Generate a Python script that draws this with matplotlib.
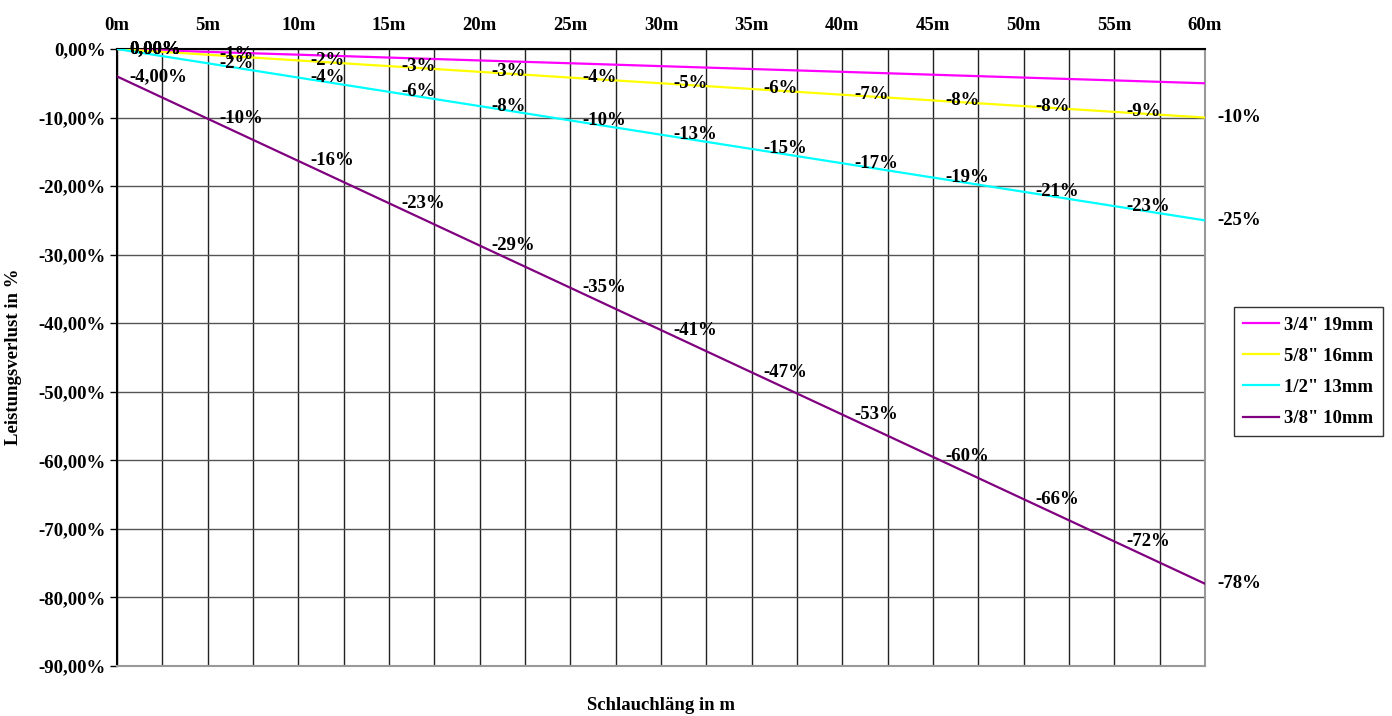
import math
import matplotlib
matplotlib.use("Agg")
import matplotlib.pyplot as plt
from matplotlib.ticker import MultipleLocator, FuncFormatter

plt.rcParams["font.family"] = ["Liberation Serif", "DejaVu Serif"]
plt.rcParams["font.weight"] = "bold"

# Schlauchlänge in m
laenge = [0, 5, 10, 15, 20, 25, 30, 35, 40, 45, 50, 55, 60]

# Leistungsverlust in % je Schlauchdurchmesser
verlust_19mm = [0, -0.42, -0.83, -1.25, -1.67, -2.08, -2.5, -2.92, -3.33, -3.75, -4.17, -4.58, -5]
verlust_16mm = [0, -0.83, -1.67, -2.5, -3.33, -4.17, -5, -5.83, -6.67, -7.5, -8.33, -9.17, -10]
verlust_13mm = [0, -2.08, -4.17, -6.25, -8.33, -10.42, -12.5, -14.58, -16.67, -18.75, -20.83, -22.92, -25]
verlust_10mm = [-4, -10.17, -16.33, -22.5, -28.67, -34.83, -41, -47.17, -53.33, -59.5, -65.67, -71.83, -78]

serien = [
    ("3/4\" 19mm", verlust_19mm, "#FF00FF", False),
    ("5/8\" 16mm", verlust_16mm, "#FFFF00", True),
    ("1/2\" 13mm", verlust_13mm, "#00FFFF", True),
    ("3/8\" 10mm", verlust_10mm, "#800080", True),
]

FS = 13.5


def runde(v):
    # kaufmännisch runden (0,5 weg von null)
    return int(math.copysign(math.floor(abs(v) + 0.5), v))


def label_text(i, v):
    if i == 0:
        return f"{v:.2f}%".replace(".", ",")
    return f"{runde(v)}%"


fig = plt.figure(figsize=(13.92, 7.16), dpi=100)
ax = fig.add_axes([117 / 1392, 1 - 666 / 716, 1088 / 1392, 617 / 716])

for name, werte, farbe, alle_labels in serien:
    ax.plot(laenge, werte, color=farbe, lw=1.6, label=name, zorder=3)
    for i, (x, v) in enumerate(zip(laenge, werte)):
        if i > 0 and not alle_labels:
            continue
        ax.annotate(label_text(i, v), (x, v), xytext=(12, 0), textcoords="offset pixels",
                    ha="left", va="center", fontsize=FS, fontweight="bold", zorder=4)

ax.set_xlim(0, 60)
ax.set_ylim(-90, 0)
ax.xaxis.set_major_locator(MultipleLocator(5))
ax.xaxis.set_minor_locator(MultipleLocator(2.5))
ax.yaxis.set_major_locator(MultipleLocator(10))
ax.xaxis.tick_top()
ax.xaxis.set_major_formatter(FuncFormatter(lambda v, p: f"{v:.0f}m"))
ax.yaxis.set_major_formatter(FuncFormatter(lambda v, p: f"{v:.2f}%".replace(".", ",").replace("-0,00", "0,00")))
ax.tick_params(axis="x", which="both", length=0, pad=11, labelsize=FS)
ax.tick_params(axis="y", length=5, width=1, labelsize=FS, pad=3)

ax.grid(True, which="major", axis="y", color="#555555", lw=1)
ax.grid(True, which="both", axis="x", color="#222222", lw=1)
ax.set_axisbelow(True)

ax.spines["left"].set_color("black")
ax.spines["top"].set_color("black")
ax.spines["right"].set_color("#999999")
ax.spines["bottom"].set_color("#999999")
for s in ax.spines.values():
    s.set_linewidth(1.5)

fig.text(661 / 1392, 1 - 705 / 716, "Schlauchläng in m", ha="center", va="center",
         fontsize=FS, fontweight="bold")
fig.text(14 / 1392, 1 - 357 / 716, "Leistungsverlust in %", ha="center", va="center",
         rotation=90, fontsize=FS, fontweight="bold")

leg = fig.legend(loc="upper right", bbox_to_anchor=(1383 / 1392, 1 - 307 / 716),
                 fontsize=FS, frameon=True, fancybox=False, handlelength=1.9,
                 borderpad=0.5, labelspacing=0.75, handletextpad=0.3, borderaxespad=0)
leg.get_frame().set_edgecolor("black")
leg.get_frame().set_linewidth(1)
for t in leg.get_texts():
    t.set_fontweight("bold")

fig.savefig("out.png", dpi=100)
